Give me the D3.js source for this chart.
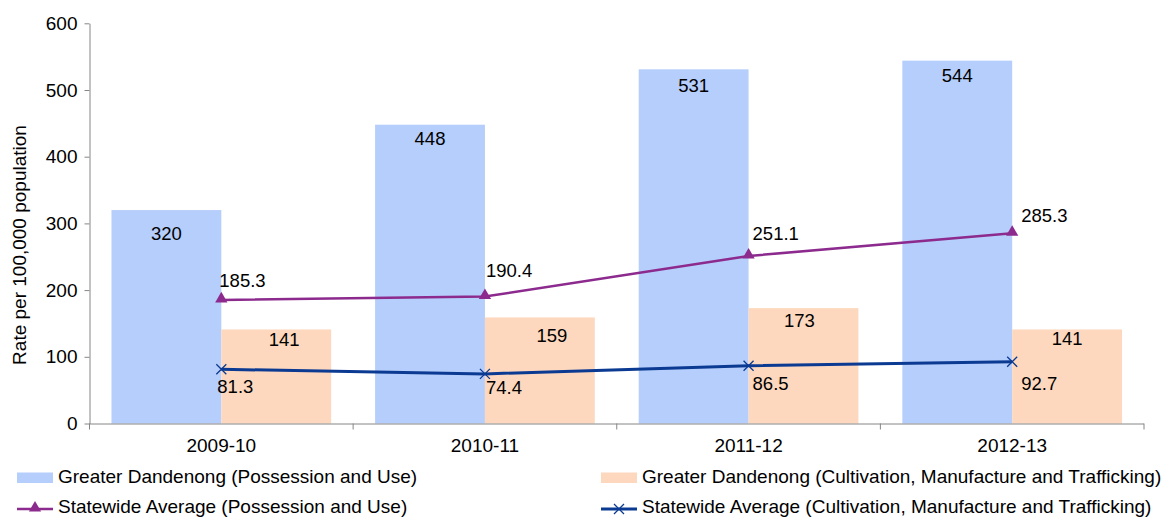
<!DOCTYPE html>
<html>
<head>
<meta charset="utf-8">
<script src="https://cdn.jsdelivr.net/npm/d3@7"></script>
<style>
  html, body { margin: 0; padding: 0; background: #fff; }
  svg { display: block; font-family: "Liberation Sans", Arial, sans-serif; }
</style>
</head>
<body>
<svg id="chart" width="1161" height="517"></svg>
<script>
// ---- data ----
const categories = ["2009-10", "2010-11", "2011-12", "2012-13"];
const gdPossession = [320, 448, 531, 544];
const gdCultivation = [141, 159, 173, 141];
const swPossession = [185.3, 190.4, 251.1, 285.3];
const swCultivation = [81.3, 74.4, 86.5, 92.7];
const yTicks = [0, 100, 200, 300, 400, 500, 600];
const seriesNames = [
  "Greater Dandenong (Possession and Use)",
  "Greater Dandenong (Cultivation, Manufacture and Trafficking)",
  "Statewide Average (Possession and Use)",
  "Statewide Average (Cultivation, Manufacture and Trafficking)"
];
const yTitle = "Rate per 100,000 population";

// label nudges (pixel offsets) to mimic the reference layout
const gdPosNudge = [[0, 30], [0, 20], [0, 23], [0, 21]];
const gdCulNudge = [[8, 17], [12, 25], [-4, 19], [0, 16]];
const swPosNudge = [[-2, -13], [1, -20], [4, -16], [9, -11]];
const swCulNudge = [[-4, 24], [1, 20], [4, 24], [9, 28]];

// ---- styles ----
const colBlue = "#B6CEFB";
const colPeach = "#FDD8BE";
const colPurple = "#8C2A8E";
const colNavy = "#0B3A92";
const axisCol = "#868686";
const fontSize = 19;
const labelSize = 18.5;

const svg = d3.select("#chart");

const x = d3.scaleBand().domain(categories).range([89.5, 1144]).paddingInner(0).paddingOuter(0);
const xi = d3.scaleBand().domain([0, 1]).range([0, x.bandwidth()]).paddingInner(0).paddingOuter(0.2);
const y = d3.scaleLinear().domain([0, 600]).range([423.5, 23.3]);

// bars
const g = svg.append("g");
g.selectAll("rect.blue").data(gdPossession).join("rect")
  .attr("x", (d, i) => x(categories[i]) + xi(0))
  .attr("y", d => y(d))
  .attr("width", xi.bandwidth())
  .attr("height", d => y(0) - y(d))
  .attr("fill", colBlue);
g.selectAll("rect.peach").data(gdCultivation).join("rect")
  .attr("x", (d, i) => x(categories[i]) + xi(1))
  .attr("y", d => y(d))
  .attr("width", xi.bandwidth())
  .attr("height", d => y(0) - y(d))
  .attr("fill", colPeach);

// axes
const yAxis = d3.axisLeft(y).tickValues(yTicks).tickSize(5).tickSizeOuter(0).tickPadding(7);
const ya = svg.append("g").attr("transform", "translate(89.5,0)").call(yAxis);
ya.select(".domain").attr("stroke", axisCol);
ya.selectAll(".tick line").attr("stroke", axisCol);
ya.selectAll("text").attr("font-size", fontSize).attr("fill", "#000")
  .attr("font-family", "Liberation Sans, Arial, sans-serif");

const xa = svg.append("g").attr("transform", `translate(0,${y(0)})`)
  .call(d3.axisBottom(x).tickSize(0).tickSizeOuter(0).tickPadding(15));
xa.select(".domain").attr("stroke", axisCol).attr("d", `M${x.range()[0]},0.5H${x.range()[1]}`);
xa.selectAll("text").attr("font-size", fontSize).attr("fill", "#000")
  .attr("font-family", "Liberation Sans, Arial, sans-serif");
// boundary ticks
const bounds = categories.map(c => x(c)).concat([x(categories[categories.length - 1]) + x.bandwidth()]);
svg.append("g").selectAll("line").data(bounds).join("line")
  .attr("x1", d => d).attr("x2", d => d)
  .attr("y1", y(0)).attr("y2", y(0) + 6)
  .attr("stroke", axisCol);

// y title
svg.append("text")
  .attr("transform", `translate(26,245) rotate(-90)`)
  .attr("text-anchor", "middle")
  .attr("font-size", fontSize)
  .text(yTitle);

// lines
const cx = i => x(categories[i]) + x.bandwidth() / 2;
const lineGen = d3.line().x((d, i) => cx(i)).y(d => y(d));
svg.append("path").datum(swPossession).attr("d", lineGen)
  .attr("fill", "none").attr("stroke", colPurple).attr("stroke-width", 2.5);
svg.append("path").datum(swCultivation).attr("d", lineGen)
  .attr("fill", "none").attr("stroke", colNavy).attr("stroke-width", 3);

const tri = d3.symbol().type(d3.symbolTriangle).size(65);
svg.append("g").selectAll("path").data(swPossession).join("path")
  .attr("d", tri)
  .attr("transform", (d, i) => `translate(${cx(i)},${y(d) - 1})`)
  .attr("fill", colPurple);
const crossPath = "M-5,-5L5,5M-5,5L5,-5";
svg.append("g").selectAll("path").data(swCultivation).join("path")
  .attr("d", crossPath)
  .attr("transform", (d, i) => `translate(${cx(i)},${y(d)})`)
  .attr("stroke", colNavy).attr("stroke-width", 1.3).attr("fill", "none");

// data labels
const lab = svg.append("g").attr("font-size", labelSize).attr("fill", "#000");
lab.selectAll("text.a").data(gdPossession).join("text")
  .attr("text-anchor", "middle")
  .attr("x", (d, i) => x(categories[i]) + xi(0) + xi.bandwidth() / 2 + gdPosNudge[i][0])
  .attr("y", (d, i) => y(d) + gdPosNudge[i][1])
  .text(d => d);
lab.selectAll("text.b").data(gdCultivation).join("text")
  .attr("text-anchor", "middle")
  .attr("x", (d, i) => x(categories[i]) + xi(1) + xi.bandwidth() / 2 + gdCulNudge[i][0])
  .attr("y", (d, i) => y(d) + gdCulNudge[i][1])
  .text(d => d);
lab.selectAll("text.c").data(swPossession).join("text")
  .attr("x", (d, i) => cx(i) + swPosNudge[i][0])
  .attr("y", (d, i) => y(d) + swPosNudge[i][1])
  .text(d => d.toFixed(1));
lab.selectAll("text.d").data(swCultivation).join("text")
  .attr("x", (d, i) => cx(i) + swCulNudge[i][0])
  .attr("y", (d, i) => y(d) + swCulNudge[i][1])
  .text(d => d.toFixed(1));

// legend
const leg = svg.append("g").attr("font-size", fontSize);
const legPos = [[17, 483], [601, 483], [17, 513], [601, 513]]; // [x, text baseline]
leg.append("rect").attr("x", legPos[0][0]).attr("y", legPos[0][1] - 10.5).attr("width", 36).attr("height", 10.5).attr("fill", colBlue);
leg.append("rect").attr("x", legPos[1][0]).attr("y", legPos[1][1] - 10.5).attr("width", 36).attr("height", 10.5).attr("fill", colPeach);
leg.append("line").attr("x1", legPos[2][0]).attr("x2", legPos[2][0] + 36).attr("y1", legPos[2][1] - 4).attr("y2", legPos[2][1] - 4)
  .attr("stroke", colPurple).attr("stroke-width", 2.5);
leg.append("path").attr("d", tri).attr("transform", `translate(${legPos[2][0] + 18},${legPos[2][1] - 5})`).attr("fill", colPurple);
leg.append("line").attr("x1", legPos[3][0]).attr("x2", legPos[3][0] + 36).attr("y1", legPos[3][1] - 4).attr("y2", legPos[3][1] - 4)
  .attr("stroke", colNavy).attr("stroke-width", 3);
leg.append("path").attr("d", crossPath).attr("transform", `translate(${legPos[3][0] + 18},${legPos[3][1] - 4})`)
  .attr("stroke", colNavy).attr("stroke-width", 1.3).attr("fill", "none");
leg.selectAll("text").data(seriesNames).join("text")
  .attr("x", (d, i) => legPos[i][0] + 41)
  .attr("y", (d, i) => legPos[i][1])
  .text(d => d);
</script>
</body>
</html>
